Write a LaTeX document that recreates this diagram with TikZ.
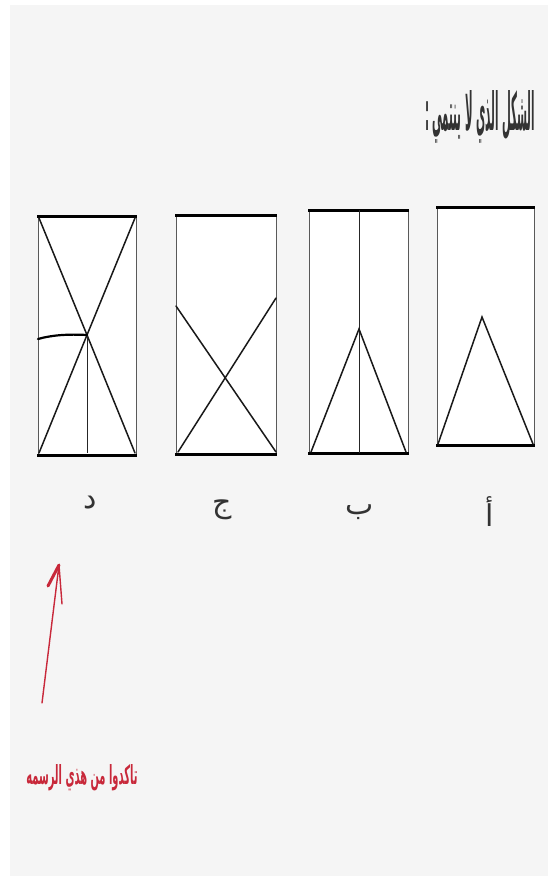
\documentclass[tikz,border=0pt]{standalone}
\usepackage{fontspec}
\newfontfamily\arabicfont[Script=Arabic]{DejaVu Sans}
\TeXXeTstate=1
\definecolor{panelgray}{HTML}{F5F5F5}
\definecolor{markred}{HTML}{C8283A}
\definecolor{letterink}{HTML}{333333}
\tikzset{
  boxside/.style={draw=black!65, line width=0.9pt},
  boxedge/.style={draw=black, line width=3pt},
  inkline/.style={draw=black!90, line width=1.5pt, line cap=round},
  thinline/.style={draw=black!85, line width=0.9pt},
  letterlabel/.style={inner sep=0pt, text=letterink, font=\arabicfont\fontsize{30}{34}\selectfont},
}
\begin{document}
\begin{tikzpicture}[x=1pt,y=-1pt]
\useasboundingbox (0,0) rectangle (556,876);
\fill[white] (0,0) rectangle (556,876);
\fill[panelgray] (10,5) rectangle (548,876);

% title
\node[inner sep=0pt, text=black!80] (title) at (480,117)
  {\resizebox{110pt}{40pt}{\arabicfont\bfseries\beginR الشكل الذي لا ينتمي :\endR}};

% box D (left)
\fill[white] (38,216) rectangle (136,455);
\draw[boxside] (38,216) -- (38,455) (136,216) -- (136,455);
\draw[boxedge] (37,216) -- (137,216) (37,455) -- (137,455);
\coordinate (dX) at (87,335);
\draw[inkline] (39,218) -- (dX) -- (135,453);
\draw[inkline] (135,218) -- (dX) -- (39,453);
\draw[thinline] (dX) -- (87,453);
\draw[draw=black, line width=2.2pt, line cap=round] (38,339) .. controls (52,335) and (68,334) .. (dX);

% box J
\fill[white] (176,215) rectangle (276,454);
\draw[boxside] (176,215) -- (176,454) (276,215) -- (276,454);
\draw[boxedge] (175,215) -- (277,215) (175,454) -- (277,454);
\draw[inkline] (176,306) -- (276,452);
\draw[inkline] (276,298) -- (178,452);

% box B
\fill[white] (309,210) rectangle (408,453);
\draw[boxside] (309,210) -- (309,453) (408,210) -- (408,453);
\draw[boxedge] (308,210) -- (409,210) (308,453) -- (409,453);
\draw[thinline] (359,210) -- (359,453);
\coordinate (bApex) at (359,329);
\draw[inkline] (311,452) -- (bApex) -- (406,452);

% box A
\fill[white] (437,207) rectangle (534,445);
\draw[boxside] (437,207) -- (437,445) (534,207) -- (534,445);
\draw[boxedge] (436,207) -- (535,207) (436,445) -- (535,445);
\coordinate (aApex) at (482,317);
\draw[inkline] (438,444) -- (aApex) -- (533,444);

% letters
\node[letterlabel] (labD) at (90,503) {\beginR د\endR};
\node[letterlabel] (labJ) at (222,510) {\beginR ج\endR};
\node[letterlabel] (labB) at (360,512) {\beginR ب\endR};
\node[letterlabel] (labA) at (490,512) {\beginR أ\endR};

% red note
\coordinate (arrTail) at (42,703);
\coordinate (arrTip) at (59,565);
\coordinate (arrHook) at (48,586);
\coordinate (arrBack) at (62,604);
\draw[markred, line width=1.4pt, line cap=round] (arrTail) -- (arrTip) -- (arrBack);
\draw[markred, line width=3pt, line cap=round] (arrTip) -- (arrHook);
\node[inner sep=0pt, text=markred] (note) at (82,778)
  {\resizebox{111pt}{20pt}{\arabicfont\bfseries\beginR تاكدوا من هذي الرسمه\endR}};
\end{tikzpicture}
\end{document}
